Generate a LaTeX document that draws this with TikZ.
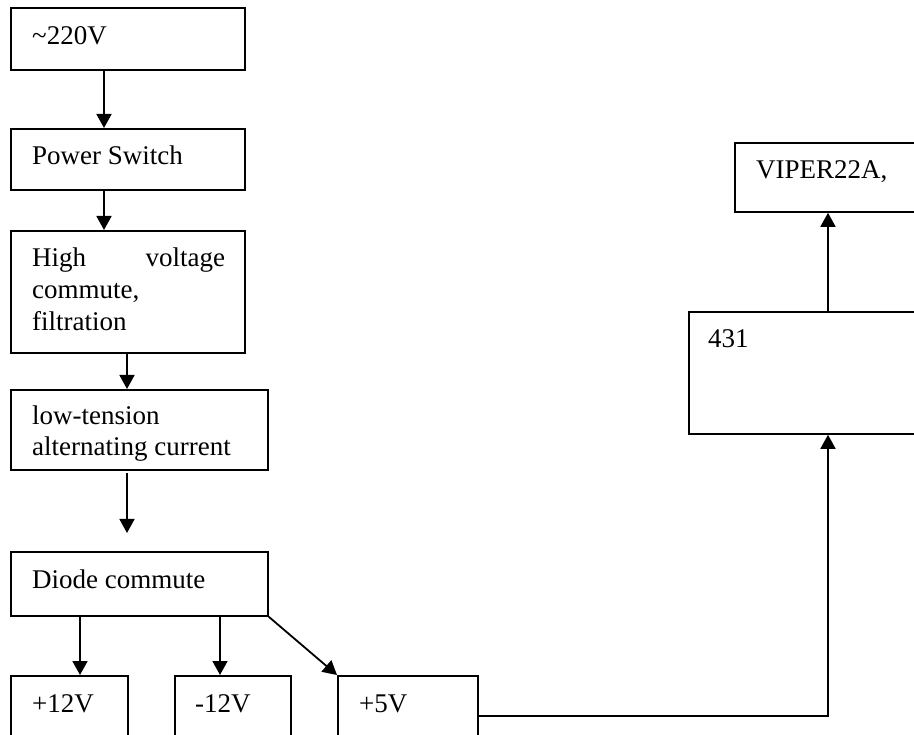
\documentclass[tikz,border=0pt]{standalone}
\usepackage{fontspec}
\setmainfont{Liberation Serif}
\usetikzlibrary{arrows.meta}
\begin{document}
\begin{tikzpicture}[x=1pt,y=-1pt,
  box/.style={draw=black,line width=1.8pt,rectangle,inner sep=0pt,anchor=north west},
  txt/.style={anchor=base west,inner sep=0pt,font=\fontsize{27}{32}\selectfont},
  arr/.style={line width=1.8pt,-{Triangle[length=14pt,width=15pt]}},
  ln/.style={line width=1.8pt}]
\useasboundingbox (0,0) rectangle (914,735);
\clip (0,0) rectangle (914,735);
% boxes
\node[box,minimum width=234pt,minimum height=62pt] (b1) at (10,7) {};
\node[box,minimum width=234pt,minimum height=61pt] (b2) at (10,128) {};
\node[box,minimum width=234pt,minimum height=122pt] (b3) at (10,230) {};
\node[box,minimum width=257pt,minimum height=80pt] (b4) at (10,389) {};
\node[box,minimum width=257pt,minimum height=64pt] (b5) at (10,551) {};
\node[box,minimum width=117pt,minimum height=90pt] (b6) at (10,675) {};
\node[box,minimum width=116pt,minimum height=90pt] (b7) at (174,675) {};
\node[box,minimum width=140pt,minimum height=90pt] (b8) at (337,675) {};
\node[box,minimum width=260pt,minimum height=122pt] (b9) at (688,311) {};
\node[box,minimum width=220pt,minimum height=69pt] (b10) at (734,142) {};
% texts
\node[txt] (t1) at (32,45) {\char`~220V};
\node[txt] (t2) at (32,165) {Power Switch};
\node[txt] (t3a) at (32,267) {\makebox[193pt][s]{High voltage}};
\node[txt] (t3b) at (32,299) {commute,};
\node[txt] (t3c) at (32,331) {filtration};
\node[txt] (t4a) at (32,425) {low-tension};
\node[txt] (t4b) at (32,456) {alternating current};
\node[txt] (t5) at (32,588) {Diode commute};
\node[txt] (t6) at (32,712) {+12V};
\node[txt] (t7) at (195,712) {-12V};
\node[txt] (t8) at (359,712) {+5V};
\node[txt] (t9) at (708,348) {431};
\node[txt] (t10) at (756,179) {VIPER22A,};
% free arrow ends
\coordinate (f1) at (127,473);
\coordinate (f2) at (127,533);
\coordinate (k) at (828,716);
% connectors
\draw[arr] ([xshift=94pt]b1.south west) -- ([xshift=94pt]b2.north west);
\draw[arr] ([xshift=94pt]b2.south west) -- ([xshift=94pt]b3.north west);
\draw[arr] ([xshift=117pt]b3.south west) -- ([xshift=117pt]b4.north west);
\draw[arr] (f1) -- (f2);
\draw[arr] ([xshift=70pt]b5.south west) -- ([xshift=70pt]b6.north west);
\draw[arr] ([xshift=210pt]b5.south west) -- ([xshift=46pt]b7.north west);
\draw[arr] (b5.south east) -- (b8.north west);
\draw[arr] ([yshift=-41pt]b8.north east) -- (k) -- ([xshift=140pt]b9.south west);
\draw[arr] ([xshift=140pt]b9.north west) -- ([xshift=94pt]b10.south west);
\end{tikzpicture}
\end{document}
